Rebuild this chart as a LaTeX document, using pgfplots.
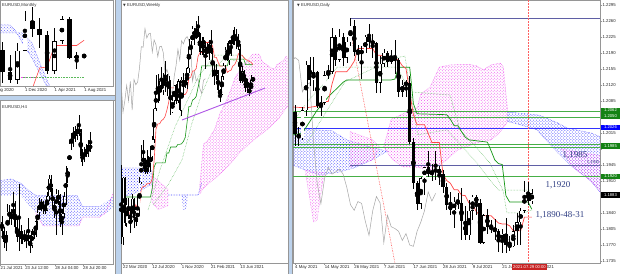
\documentclass[border=0pt]{standalone}
\usepackage{fontspec}
\setmainfont{Liberation Sans}
\newfontfamily\serifT{Liberation Serif}
\newfontfamily\dejavu{DejaVu Sans}
\usepackage{pgfplots}
\usepackage{pgfplotstable}
\pgfplotsset{compat=1.18}
\usetikzlibrary{patterns}

\definecolor{sep}{RGB}{188,210,236}
\definecolor{frame}{RGB}{150,150,150}
\definecolor{cpink}{RGB}{240,80,240}
\definecolor{cblue}{RGB}{70,70,255}
\definecolor{tred}{RGB}{255,70,70}
\definecolor{kgreen}{RGB}{20,150,20}
\definecolor{dgreen}{RGB}{90,185,90}
\definecolor{hgreen}{RGB}{70,175,70}
\definecolor{chik}{RGB}{165,165,165}
\definecolor{navy}{RGB}{95,95,165}
\definecolor{anno}{RGB}{45,60,130}
\definecolor{boxg}{RGB}{20,130,20}
\definecolor{trend}{RGB}{175,85,230}
\definecolor{redbox}{RGB}{200,35,35}

% ---------- Daily EURUSD (index 0 = 4 May 2021) ----------
\pgfplotstableread[row sep=\\]{
x o h l c\\
0 1.2062 1.2076 1.1987 1.2013\\
1 1.2013 1.2029 1.1986 1.2004\\
2 1.2004 1.2071 1.1999 1.2065\\
3 1.2065 1.2173 1.2053 1.2164\\
4 1.2164 1.2181 1.2117 1.2130\\
5 1.2130 1.2182 1.2106 1.2148\\
6 1.2148 1.2151 1.2069 1.2074\\
7 1.2074 1.2096 1.2052 1.2081\\
8 1.2081 1.2150 1.2077 1.2141\\
9 1.2141 1.2164 1.2133 1.2149\\
10 1.2149 1.2245 1.2145 1.2224\\
11 1.2224 1.2229 1.2162 1.2175\\
12 1.2175 1.2243 1.2170 1.2226\\
13 1.2226 1.2234 1.2161 1.2180\\
14 1.2180 1.2224 1.2168 1.2214\\
15 1.2214 1.2266 1.2205 1.2250\\
16 1.2250 1.2263 1.2183 1.2192\\
17 1.2192 1.2208 1.2172 1.2194\\
18 1.2194 1.2206 1.2133 1.2190\\
19 1.2190 1.2229 1.2189 1.2226\\
20 1.2226 1.2254 1.2201 1.2215\\
21 1.2215 1.2231 1.2180 1.2211\\
22 1.2211 1.2215 1.2103 1.2125\\
23 1.2125 1.2184 1.2103 1.2166\\
24 1.2166 1.2198 1.2160 1.2191\\
25 1.2191 1.2194 1.2160 1.2170\\
26 1.2170 1.2196 1.2165 1.2180\\
27 1.2180 1.2218 1.2144 1.2174\\
28 1.2174 1.2180 1.2093 1.2105\\
29 1.2105 1.2130 1.2094 1.2120\\
30 1.2120 1.2131 1.2094 1.2125\\
31 1.2125 1.2140 1.1990 1.1996\\
32 1.1996 1.2003 1.1892 1.1905\\
33 1.1905 1.1911 1.1847 1.1860\\
34 1.1860 1.1919 1.1848 1.1916\\
35 1.1916 1.1941 1.1880 1.1940\\
36 1.1940 1.1975 1.1918 1.1925\\
37 1.1925 1.1947 1.1911 1.1930\\
38 1.1930 1.1975 1.1912 1.1936\\
39 1.1936 1.1943 1.1901 1.1925\\
40 1.1925 1.1935 1.1884 1.1896\\
41 1.1896 1.1905 1.1847 1.1858\\
42 1.1858 1.1885 1.1835 1.1846\\
43 1.1846 1.1875 1.1807 1.1865\\
44 1.1865 1.1883 1.1848 1.1861\\
45 1.1861 1.1895 1.1782 1.1822\\
46 1.1822 1.1855 1.1781 1.1791\\
47 1.1791 1.1868 1.1781 1.1845\\
48 1.1845 1.1880 1.1825 1.1876\\
49 1.1876 1.1880 1.1835 1.1862\\
50 1.1862 1.1871 1.1772 1.1775\\
51 1.1775 1.1838 1.1772 1.1835\\
52 1.1835 1.1849 1.1795 1.1810\\
53 1.1810 1.1825 1.1796 1.1806\\
54 1.1806 1.1828 1.1780 1.1800\\
55 1.1800 1.1805 1.1755 1.1780\\
56 1.1780 1.1806 1.1752 1.1795\\
57 1.1795 1.1829 1.1752 1.1770\\
58 1.1770 1.1790 1.1756 1.1767\\
59 1.1767 1.1813 1.1765 1.1800\\
60 1.1800 1.1840 1.1770 1.1820\\
61 1.1820 1.1850 1.1771 1.1845\\
62 1.1845 1.1909 1.1841 1.1886\\
63 1.1886 1.1908 1.1857 1.1866\\
64 1.1866 1.1892 1.1860 1.1883\\
}\daily

% ---------- Weekly EURUSD (index 11 = 22 Mar 2020) ----------
\pgfplotstableread[row sep=\\]{
x o h l c\\
10 1.1105 1.1237 1.0640 1.0695\\
11 1.0695 1.1147 1.0636 1.1140\\
12 1.1140 1.1148 1.0780 1.0800\\
13 1.0800 1.0991 1.0768 1.0935\\
14 1.0935 1.0990 1.0833 1.0875\\
15 1.0875 1.0890 1.0727 1.0820\\
16 1.0820 1.1019 1.0810 1.0980\\
17 1.0980 1.0990 1.0766 1.0840\\
18 1.0840 1.0875 1.0775 1.0820\\
19 1.0820 1.1009 1.0810 1.0900\\
20 1.0900 1.1147 1.0870 1.1100\\
21 1.1100 1.1384 1.1095 1.1290\\
22 1.1290 1.1422 1.1240 1.1255\\
23 1.1255 1.1290 1.1168 1.1180\\
24 1.1180 1.1349 1.1168 1.1220\\
25 1.1220 1.1303 1.1185 1.1245\\
26 1.1245 1.1373 1.1185 1.1300\\
27 1.1300 1.1452 1.1280 1.1425\\
28 1.1425 1.1660 1.1400 1.1655\\
29 1.1655 1.1909 1.1640 1.1780\\
30 1.1780 1.1916 1.1696 1.1785\\
31 1.1785 1.1866 1.1712 1.1840\\
32 1.1840 1.1966 1.1780 1.1795\\
33 1.1795 1.1924 1.1755 1.1905\\
34 1.1905 1.2011 1.1780 1.1840\\
35 1.1840 1.1917 1.1753 1.1845\\
36 1.1845 1.1901 1.1738 1.1840\\
37 1.1840 1.1872 1.1612 1.1630\\
38 1.1630 1.1755 1.1625 1.1715\\
39 1.1715 1.1833 1.1685 1.1830\\
40 1.1830 1.1840 1.1690 1.1715\\
41 1.1715 1.1881 1.1702 1.1860\\
42 1.1860 1.1870 1.1640 1.1645\\
43 1.1645 1.1890 1.1603 1.1875\\
44 1.1875 1.1920 1.1745 1.1835\\
45 1.1835 1.1892 1.1808 1.1855\\
46 1.1855 1.1965 1.1800 1.1960\\
47 1.1960 1.2177 1.1924 1.2120\\
48 1.2120 1.2163 1.2059 1.2115\\
49 1.2115 1.2273 1.2111 1.2255\\
50 1.2255 1.2260 1.2130 1.2185\\
51 1.2185 1.2310 1.2175 1.2215\\
52 1.2215 1.2349 1.2193 1.2220\\
53 1.2220 1.2222 1.2054 1.2080\\
54 1.2080 1.2190 1.2060 1.2170\\
55 1.2170 1.2190 1.2055 1.2135\\
56 1.2135 1.2150 1.1952 1.2045\\
57 1.2045 1.2150 1.2040 1.2120\\
58 1.2120 1.2169 1.2023 1.2123\\
59 1.2123 1.2243 1.2066 1.2075\\
60 1.2075 1.2113 1.1893 1.1915\\
61 1.1915 1.1990 1.1836 1.1950\\
62 1.1950 1.1989 1.1873 1.1905\\
63 1.1905 1.1945 1.1762 1.1795\\
64 1.1795 1.1800 1.1704 1.1765\\
65 1.1765 1.1927 1.1761 1.1900\\
66 1.1900 1.1994 1.1868 1.1980\\
67 1.1980 1.2117 1.1950 1.2100\\
68 1.2100 1.2150 1.2015 1.2020\\
69 1.2020 1.2173 1.1986 1.2165\\
70 1.2165 1.2182 1.2052 1.2140\\
71 1.2140 1.2245 1.2133 1.2180\\
72 1.2180 1.2266 1.2133 1.2195\\
73 1.2195 1.2254 1.2103 1.2165\\
74 1.2165 1.2218 1.2093 1.2105\\
75 1.2105 1.2140 1.1847 1.1860\\
76 1.1860 1.1975 1.1848 1.1935\\
77 1.1935 1.1943 1.1807 1.1865\\
78 1.1865 1.1895 1.1781 1.1875\\
79 1.1875 1.1880 1.1772 1.1805\\
80 1.1805 1.1829 1.1752 1.1770\\
81 1.1770 1.1909 1.1765 1.1870\\
82 1.1870 1.1892 1.1860 1.1880\\
}\weekly

% ---------- Monthly EURUSD (index 0 = Sep 2020) ----------
\pgfplotstableread[row sep=\\]{
x o h l c\\
0 1.1935 1.2011 1.1612 1.1720\\
1 1.1720 1.1881 1.1612 1.1645\\
2 1.1645 1.2004 1.1603 1.1925\\
3 1.1925 1.2310 1.1925 1.2215\\
4 1.2215 1.2349 1.2054 1.2135\\
5 1.2135 1.2243 1.1952 1.2075\\
6 1.2075 1.2113 1.1704 1.1730\\
7 1.1730 1.2150 1.1704 1.2020\\
8 1.2020 1.2266 1.1986 1.2230\\
9 1.2230 1.2254 1.1847 1.1858\\
10 1.1858 1.1909 1.1752 1.1870\\
11 1.1870 1.1892 1.1860 1.1876\\
}\monthly

% ---------- H4 EURUSD (index 0 = 21 Jul 2021 00:00) ----------
\pgfplotstableread[row sep=\\]{
x o h l c\\
0 1.1785 1.1792 1.1770 1.1775\\
1 1.1775 1.1780 1.1756 1.1762\\
2 1.1762 1.1775 1.1752 1.1770\\
3 1.1770 1.1806 1.1765 1.1798\\
4 1.1798 1.1805 1.1785 1.1790\\
5 1.1790 1.1800 1.1782 1.1795\\
6 1.1795 1.1820 1.1790 1.1800\\
7 1.1800 1.1810 1.1775 1.1780\\
8 1.1780 1.1790 1.1762 1.1768\\
9 1.1768 1.1829 1.1752 1.1775\\
10 1.1775 1.1782 1.1760 1.1766\\
11 1.1766 1.1775 1.1760 1.1770\\
12 1.1770 1.1776 1.1762 1.1765\\
13 1.1765 1.1775 1.1756 1.1772\\
14 1.1772 1.1790 1.1760 1.1764\\
15 1.1764 1.1770 1.1750 1.1758\\
16 1.1758 1.1778 1.1755 1.1775\\
17 1.1775 1.1780 1.1766 1.1770\\
18 1.1770 1.1790 1.1768 1.1786\\
19 1.1786 1.1800 1.1780 1.1797\\
20 1.1797 1.1813 1.1790 1.1808\\
21 1.1808 1.1812 1.1798 1.1805\\
22 1.1805 1.1810 1.1795 1.1802\\
23 1.1802 1.1806 1.1795 1.1799\\
24 1.1799 1.1820 1.1798 1.1815\\
25 1.1815 1.1840 1.1810 1.1835\\
26 1.1835 1.1840 1.1815 1.1820\\
27 1.1820 1.1825 1.1800 1.1805\\
28 1.1805 1.1810 1.1790 1.1800\\
29 1.1800 1.1823 1.1770 1.1818\\
30 1.1818 1.1822 1.1805 1.1810\\
31 1.1810 1.1818 1.1780 1.1785\\
32 1.1785 1.1800 1.1771 1.1795\\
33 1.1795 1.1820 1.1790 1.1815\\
34 1.1815 1.1850 1.1805 1.1840\\
35 1.1840 1.1848 1.1830 1.1843\\
36 1.1843 1.1880 1.1840 1.1876\\
37 1.1876 1.1888 1.1868 1.1882\\
38 1.1882 1.1895 1.1872 1.1890\\
39 1.1890 1.1896 1.1878 1.1885\\
40 1.1885 1.1898 1.1880 1.1893\\
41 1.1893 1.1909 1.1885 1.1888\\
42 1.1888 1.1892 1.1855 1.1862\\
43 1.1862 1.1870 1.1850 1.1858\\
44 1.1858 1.1872 1.1855 1.1868\\
45 1.1868 1.1875 1.1860 1.1864\\
46 1.1864 1.1880 1.1860 1.1874\\
47 1.1874 1.1889 1.1866 1.1870\\
}\hfour

\pgfplotsset{
  mt/.style={scale only axis, clip=true, axis line style={frame, line width=0.4pt},
    tick style={frame, line width=0.3pt}, tick align=outside, major tick length=1.8bp,
    xtick pos=bottom, ytick=\empty, enlargelimits=false,
    tick label style={font=\fontsize{4.3}{5}\selectfont, text=black!85, inner sep=0.6bp},
    xticklabel style={anchor=north west, xshift=-0.6bp}},
  ebar/.style 2 args={only marks, mark=none, forget plot,
    error bars/.cd, y dir=both, y explicit, error mark=none,
    error bar style={#1, line width=#2}},
}
% #1 table, #2 wick width, #3 body width, #4 inner width, #5 border (data units)
\newcommand\candles[5]{%
  \addplot[ebar={black}{#2}] table[x=x, y expr={(\thisrow{h}+\thisrow{l})/2}, y error expr={(\thisrow{h}-\thisrow{l})/2}] {#1};
  \addplot[ebar={black}{#3}] table[x=x, y expr={(\thisrow{o}+\thisrow{c})/2}, y error expr={max(abs(\thisrow{c}-\thisrow{o})/2,#5/2)}] {#1};
  \addplot[ebar={white}{#4}] table[x=x, y expr={(\thisrow{o}+\thisrow{c})/2}, y error expr={max((\thisrow{c}-\thisrow{o})/2-#5,0)}] {#1};
}

\begin{document}
\begin{tikzpicture}
\useasboundingbox (0,0) rectangle (620bp,274bp);
\fill[sep] (0,0) rectangle (620bp,274bp);
\fill[white] (0,179bp) rectangle (115bp,274bp);
\fill[white] (0,0) rectangle (115bp,174bp);
\fill[white] (121bp,0) rectangle (288bp,274bp);
\fill[white] (292bp,0) rectangle (620bp,274bp);
\draw[frame, line width=0.5pt] (115bp,0) -- (115bp,274bp) (121bp,0) -- (121bp,274bp)
  (288bp,0) -- (288bp,274bp) (292bp,0) -- (292bp,274bp) (0,179bp) -- (115bp,179bp) (0,174bp) -- (115bp,174bp);

% ================= MONTHLY =================
\begin{axis}[mt, at={(0bp,188bp)}, anchor=south west, width=113bp, height=86bp,
  xmin=-0.365, xmax=14.9, ymin=1.1583, ymax=1.2417,
  xtick={3,7,11}, xticklabels={1 Dec 2020,1 Apr 2021,1 Aug 2021}]
\addplot[draw=cblue, densely dotted, line width=0.5pt, pattern=crosshatch dots, pattern color=cblue!80]
  coordinates {(-0.4,1.2175) (1.0,1.2175) (1.66,1.2126) (3.0,1.1961) (3.96,1.1854) (6,1.1573) (6.4,1.1573) (5.4,1.1738) (3.96,1.2000) (2.6,1.2097) (-0.4,1.2097)} -- cycle;
\addplot[cpink, densely dotted, line width=0.6pt] coordinates {(2.2,1.1672) (4.2,1.1672)};
\addplot[dgreen, densely dotted, line width=0.6pt] coordinates {(2.7,1.1665) (10.9,1.1665)};
\addplot[tred, line width=0.6pt] coordinates {(4,1.1558) (5,1.1758) (6,1.1767) (7,1.1976) (10,1.1976) (11,1.2027)};
\candles{\monthly}{0.5bp}{4.6bp}{3.4bp}{0.0006}
\end{axis}
\node[font=\fontsize{4.3}{5}\selectfont, text=black!85, anchor=north west, inner sep=0.6bp] at (-5.3bp,186.2bp) {Aug 2020};
\node[font=\fontsize{4.3}{5}\selectfont, text=black!80, anchor=west, inner sep=0pt] at (2bp,269bp) {EURUSD,Monthly};

% ================= H4 =================
\begin{axis}[mt, at={(0bp,10bp)}, anchor=south west, width=113bp, height=164bp,
  xmin=-1.07, xmax=59.2, ymin=1.1737, ymax=1.1926,
  xtick={-0.8,12.3,28.3,43.2}, xticklabels={21 Jul 2021,23 Jul 12:00,28 Jul 04:00,28 Jul 20:00}]
\addplot[draw=none, pattern=crosshatch dots, pattern color=cblue]
  coordinates {(-1.1,1.1833) (5,1.1835) (10,1.1830) (14,1.1822) (18,1.1816) (40,1.1816) (43,1.1803) (52,1.1803) (55,1.1808) (59.3,1.1816)
               (59.3,1.1801) (55,1.1795) (52,1.1791) (43,1.1791) (41,1.1781) (22,1.1781) (18,1.1796) (10,1.1816) (-1.1,1.1816)} -- cycle;
\addplot[cblue, densely dotted, line width=0.5pt] coordinates {(-1.1,1.1833) (5,1.1835) (10,1.1830) (14,1.1822) (18,1.1816) (40,1.1816) (43,1.1803) (52,1.1803)};
\addplot[cpink, densely dotted, line width=0.6pt] coordinates {(18,1.1796) (22,1.1781) (41,1.1781) (43,1.1791) (52,1.1791) (55,1.1796) (57,1.1805) (59.3,1.1819)};
\candles{\hfour}{0.4bp}{1.5bp}{0.7bp}{0.00006}
\end{axis}
\node[font=\fontsize{4.3}{5}\selectfont, text=black!80, anchor=west, inner sep=0pt] at (2bp,167bp) {EURUSD,H4};

% ================= WEEKLY =================
\begin{axis}[mt, at={(121bp,11bp)}, anchor=south west, width=167bp, height=263bp,
  xmin=9.9, xmax=101.16, ymin=1.0501, ymax=1.2469,
  xtick={11,27,43,59,75}, xticklabels={22 Mar 2020,12 Jul 2020,1 Nov 2020,21 Feb 2021,13 Jun 2021}]
% clouds
\addplot[draw=cblue, densely dotted, line width=0.4pt, pattern=crosshatch dots, pattern color=cblue]
  coordinates {(9.9,1.1212) (20,1.1212) (26.8,1.1190) (26.8,1.1090) (20,1.1040) (15,1.1010) (9.9,1.1000)} -- cycle;
\addplot[draw=cpink, densely dotted, line width=0.4pt, pattern=crosshatch dots, pattern color=cpink]
  coordinates {(26.8,1.1150) (30,1.1120) (35.6,1.1050) (35.6,1.0930) (30,1.0900) (26.8,1.0960)} -- cycle;
\addplot[draw=none, pattern=crosshatch dots, pattern color=cblue]
  coordinates {(43,1.1010) (46.5,1.1010) (45.5,1.0898) (43.8,1.0898)} -- cycle;
\addplot[cblue, densely dotted, line width=0.6pt] coordinates {(35.6,1.1010) (52,1.1010) (54,1.1100)};
\addplot[draw=cpink, densely dotted, line width=0.5pt, pattern=crosshatch dots, pattern color=cpink]
  coordinates {(53,1.1090) (54,1.1243) (55,1.1391) (57,1.1411) (61,1.1500) (64,1.1620) (67,1.1700) (70,1.1800) (72,1.1880) (75,1.1950) (78,1.2000) (82,1.2064) (85,1.2064) (86,1.2049) (87,1.2008) (89,1.1990) (92,1.1960) (94,1.1952) (95,1.1983) (97,1.2001) (99,1.2021) (100,1.2047) (101.2,1.2042)
               (101.2,1.1680) (98,1.1620) (96,1.1580) (93,1.1540) (89,1.1490) (84,1.1440) (79,1.1380) (75,1.1330) (70,1.1250) (65,1.1180) (61,1.1130) (58,1.1100) (55,1.1060) (53,1.1020)} -- cycle;
% green dotted levels
\addplot[dgreen, densely dotted, line width=0.5pt] coordinates {(24.7,1.0898) (31.2,1.1197) (39.4,1.1519) (47.6,1.1758) (52.0,1.1893) (61.3,1.2057) (76.0,1.2057) (81.5,1.1968)};
\addplot[dgreen, densely dotted, line width=0.5pt] coordinates {(27.4,1.0935) (35.6,1.1085) (43.2,1.1272) (48.7,1.1549) (54.2,1.1773) (59.6,1.1945) (66.7,1.2035) (74.9,1.2005)};
% chikou
\addplot[chik, line width=0.5pt] coordinates {(10,1.1840) (11,1.1630) (12,1.1715) (13,1.1830) (14,1.1715) (15,1.1860) (16,1.1645) (17,1.1875) (18,1.1835) (19,1.1855) (20,1.1960) (21,1.2120) (22,1.2115) (23,1.2255) (24,1.2185) (25,1.2215) (26,1.2220) (27,1.2080) (28,1.2170) (29,1.2135) (30,1.2045) (31,1.2120) (32,1.2123) (33,1.2075) (34,1.1915) (35,1.1950) (36,1.1905) (37,1.1795) (38,1.1765) (39,1.1900) (40,1.1980) (41,1.2100) (42,1.2020) (43,1.2165) (44,1.2140) (45,1.2180) (46,1.2195) (47,1.2165) (48,1.2105) (49,1.1860) (50,1.1935) (51,1.1865) (52,1.1875) (53,1.1805) (54,1.1770) (55,1.1870) (56,1.1880)};
% kijun
\addplot[kgreen, line width=0.6pt] coordinates {(9.9,1.0995) (26,1.0995) (27,1.1060) (28,1.1220) (29,1.1250) (34,1.1250) (35,1.1324) (36,1.1324) (37,1.1369) (40,1.1369) (41,1.1389) (42,1.1389) (43,1.1393) (44,1.1411) (45,1.1441) (46,1.1553) (47,1.1673) (48,1.1673) (49,1.1721) (50,1.1729) (51,1.1748) (52,1.1815) (53,1.1875) (54,1.1976) (68,1.1976) (69,1.2027) (77,1.2027) (78,1.1985) (82,1.1985)};
% tenkan
\addplot[tred, line width=0.6pt] coordinates {(13,1.0880) (14,1.0880) (15,1.0870) (16,1.0870) (17,1.0890) (18,1.0937) (19,1.0892) (20,1.0938) (21,1.1056) (22,1.1075) (23,1.1075) (24,1.1094) (25,1.1094) (26,1.1099) (27,1.1131) (28,1.1265) (29,1.1502) (30,1.1542) (31,1.1542) (32,1.1567) (33,1.1576) (34,1.1598) (35,1.1646) (36,1.1706) (37,1.1812) (42,1.1812) (43,1.1760) (44,1.1762) (45,1.1762) (46,1.1784) (47,1.1890) (48,1.1890) (49,1.1938) (50,1.1938) (51,1.1957) (52,1.2047) (53,1.2075) (54,1.2075) (55,1.2137) (56,1.2151) (59,1.2151) (60,1.2121) (61,1.2040) (62,1.2040) (63,1.2003) (64,1.1974) (67,1.1974) (68,1.1927) (69,1.1939) (70,1.1943) (71,1.1975) (72,1.1985) (73,1.2014) (74,1.2067) (75,1.2057) (76,1.2057) (77,1.2037) (78,1.2024) (79,1.2019) (80,1.2009) (81,1.2003) (82,1.1985)};
\candles{\weekly}{0.4bp}{1.4bp}{0.6bp}{0.00037}
% trend line
\addplot[trend, line width=0.9pt] coordinates {(43.2,1.1571) (88.6,1.1810)};
\end{axis}
\node[font=\fontsize{4.3}{5}\selectfont, text=black!80, anchor=west, inner sep=0pt] at (123bp,269bp) {{\dejavu\fontsize{3.5}{4}\selectfont ▼} EURUSD,Weekly};

% ================= DAILY =================
\begin{axis}[mt, at={(293bp,11bp)}, anchor=south west, width=307bp, height=263bp,
  xmin=-0.54, xmax=82.43, ymin=1.17306, ymax=1.23059,
  xtick={0,8,16,24,32,40,48,56,64},
  xticklabels={4 May 2021,14 May 2021,26 May 2021,7 Jun 2021,17 Jun 2021,28 Jun 2021,9 Jul 2021,21 Jul 2021,2 Aug 2021},
  ytick={1.2295,1.2260,1.2225,1.2190,1.2155,1.2120,1.2085,1.2050,1.2015,1.1980,1.1945,1.1910,1.1875,1.1840,1.1805,1.1770,1.1735},
  yticklabels={1.2295,1.2260,1.2225,1.2190,1.2155,1.2120,1.2085,{},1.2015,{},1.1945,1.1910,{},1.1840,1.1805,1.1770,1.1735},
  ytick pos=right, yticklabel pos=right]
% clouds
\addplot[draw=cblue, densely dotted, line width=0.4pt, pattern=crosshatch dots, pattern color=cblue]
  coordinates {(-0.6,1.2025) (10,1.2020) (14,1.2000) (20,1.1985) (25,1.1975) (20.8,1.1956) (16.2,1.1939) (12.2,1.1930) (6.8,1.1923) (2.7,1.1934) (-0.6,1.1945)} -- cycle;
\addplot[draw=cpink, densely dotted, line width=0.4pt, pattern=crosshatch dots, pattern color=cpink]
  coordinates {(2.7,1.1934) (4,1.1870) (5,1.1820) (6,1.1825) (7.3,1.1900) (8,1.1928)} -- cycle;
\addplot[draw=cpink, densely dotted, line width=0.4pt, pattern=crosshatch dots, pattern color=cpink]
  coordinates {(14.9,1.2018) (21,1.2000) (23,1.1985) (21,1.1956) (14.9,1.1941)} -- cycle;
\addplot[draw=cpink, densely dotted, line width=0.5pt, pattern=crosshatch dots, pattern color=cpink]
  coordinates {(24,1.1985) (26,1.2045) (30,1.2060) (33,1.2070) (34,1.2100) (36.5,1.2115) (39,1.2159) (42,1.2164) (47,1.2165) (49,1.2162) (51,1.2153) (53,1.2164) (55.5,1.2168) (56.3,1.2159) (57.5,1.2061)
               (57.5,1.2040) (55,1.2013) (53,1.2000) (49,1.1993) (44,1.1978) (40,1.1950) (36.5,1.1934) (33,1.1940) (29,1.1941) (26,1.1960)} -- cycle;
\addplot[draw=cblue, densely dotted, line width=0.5pt, pattern=crosshatch dots, pattern color=cblue]
  coordinates {(57.5,1.2061) (66,1.2054) (71,1.2037) (73.5,1.2026) (80,1.2015) (83,1.2005) (83,1.1880) (80,1.1910) (75,1.1941) (71,1.1972) (65.4,1.2022) (60,1.2035) (57.5,1.2040)} -- cycle;
\addplot[draw=cpink, densely dotted, line width=0.4pt, pattern=crosshatch dots, pattern color=cpink]
  coordinates {(72,1.1980) (83,1.1965) (83,1.1882) (80,1.1910) (75,1.1941)} -- cycle;
% horizontal levels
\addplot[navy, line width=0.6pt] coordinates {(14.9,1.2266) (83,1.2266)};
\addplot[hgreen, line width=0.7pt] coordinates {(-1,1.2062) (83,1.2062)};
\addplot[hgreen, line width=0.7pt] coordinates {(-1,1.2050) (83,1.2050)};
\addplot[blue!80, line width=0.7pt] coordinates {(-1,1.2026) (83,1.2026)};
\addplot[hgreen, line width=0.8pt] coordinates {(-1,1.1991) (83,1.1991)};
\addplot[hgreen, line width=0.8pt] coordinates {(-1,1.1984) (83,1.1984)};
\addplot[navy, line width=0.6pt] coordinates {(14.9,1.1945) (83,1.1945)};
\addplot[hgreen, line width=0.8pt] coordinates {(-1,1.1920) (83,1.1920)};
% red dotted diagonal and crosshair
\addplot[tred, densely dotted, line width=0.6pt] coordinates {(15.4,1.2218) (27,1.1731)};
\addplot[red!50!pink, densely dotted, line width=0.5pt] coordinates {(63,1.1730) (63,1.2306)};
% green dotted lines
\addplot[dgreen, densely dotted, line width=0.5pt] coordinates {(-0.5,1.2040) (4,1.2090) (8,1.2125) (11.4,1.2159) (27.6,1.2159) (31.1,1.2105) (41.9,1.2098) (44.6,1.2022) (49.2,1.1982) (52.7,1.1949) (56.2,1.1890) (57.3,1.1840) (61.6,1.1840) (64.3,1.1847)};
\addplot[dgreen, densely dotted, line width=0.5pt] coordinates {(3,1.1990) (6.8,1.2040) (13.5,1.2127) (27,1.2179) (29.7,1.2183) (31.6,1.2087) (33.2,1.2011) (41.1,1.2022) (49.2,1.1949) (52.7,1.1912) (55,1.1890) (64.3,1.1890)};
% chikou
\addplot[chik, line width=0.5pt] coordinates {(-1,1.2170) (0,1.2180) (1,1.2174) (2,1.2105) (3,1.2120) (4,1.2125) (5,1.1996) (6,1.1905) (7,1.1860) (8,1.1916) (9,1.1940) (10,1.1925) (11,1.1930) (12,1.1936) (13,1.1925) (14,1.1896) (15,1.1858) (16,1.1846) (17,1.1865) (18,1.1861) (19,1.1822) (20,1.1791) (21,1.1845) (22,1.1876) (23,1.1862) (24,1.1775) (25,1.1835) (26,1.1810) (27,1.1806) (28,1.1800) (29,1.1780) (30,1.1795) (31,1.1770) (32,1.1767) (33,1.1800) (34,1.1820) (35,1.1845) (36,1.1886) (37,1.1866) (38,1.1883)};
% kijun
\addplot[kgreen, line width=0.7pt] coordinates {(-1,1.2010) (2,1.2015) (6,1.2065) (9,1.2094) (13,1.2126) (14,1.2131) (26,1.2131) (27,1.2133) (28,1.2159) (31,1.2159) (32,1.2079) (33,1.2057) (41,1.2055) (42,1.2045) (43,1.2031) (44,1.2031) (45,1.2018) (46,1.2006) (47,1.2000) (52,1.1995) (53,1.1976) (54,1.1956) (55,1.1948) (56,1.1946) (57,1.1878) (58,1.1864) (63,1.1864) (64,1.1848)};
% tenkan
\addplot[tred, line width=0.7pt] coordinates {(-1,1.2072) (3,1.2070) (7,1.2075) (8,1.2084) (9,1.2084) (10,1.2122) (11,1.2149) (14,1.2149) (15,1.2159) (16,1.2172) (17,1.2200) (21,1.2200) (22,1.2185) (23,1.2185) (24,1.2183) (25,1.2179) (27,1.2179) (28,1.2174) (29,1.2162) (30,1.2156) (31,1.2104) (32,1.2055) (33,1.2033) (35,1.2033) (36,1.2014) (37,1.1994) (39,1.1994) (40,1.1925) (41,1.1911) (42,1.1905) (43,1.1891) (44,1.1891) (45,1.1879) (46,1.1878) (47,1.1862) (48,1.1858) (49,1.1843) (50,1.1834) (53,1.1834) (54,1.1826) (55,1.1818) (56,1.1816) (57,1.1816) (58,1.1812) (59,1.1801) (61,1.1801) (62,1.1831) (64,1.1831)};
\candles{\daily}{0.5bp}{3.2bp}{2.3bp}{0.0001}
\end{axis}
\node[font=\fontsize{4.3}{5}\selectfont, text=black!80, anchor=west, inner sep=0pt] at (297bp,269bp) {{\dejavu\fontsize{3.5}{4}\selectfont ▼} EURUSD,Daily};

% price boxes on the daily scale
\tikzset{pbox/.style={font=\fontsize{4.2}{5}\selectfont, text=white, inner sep=0.3bp, minimum width=18.5bp, minimum height=5.6bp, anchor=west}}
\node[pbox, fill=boxg] at (601bp,163.5bp) {1.2062};
\node[pbox, fill=boxg] at (601bp,157.8bp) {1.2050};
\node[pbox, fill=blue] at (601bp,146.5bp) {1.2026};
\node[pbox, fill=boxg] at (601bp,128bp) {1.1985};
\node[pbox, fill=boxg] at (601bp,97.5bp) {1.1920};
\node[pbox, fill=black] at (601bp,79bp) {1.1883};
\node[font=\serifT\fontsize{4.6}{5}\selectfont, text=anno, anchor=east, inner sep=0.3bp] at (600bp,111.5bp) {1,1945};

% annotations
\node[font=\serifT\fontsize{9}{10}\selectfont, text=anno] at (575bp,119bp) {1,1985};
\node[font=\serifT\fontsize{9}{10}\selectfont, text=anno] at (558bp,89bp) {1,1920};
\node[font=\serifT\fontsize{9}{10}\selectfont, text=anno] at (560bp,58.5bp) {1,1890-48-31};

% crosshair date box
\node[fill=redbox, text=white, font=\fontsize{4.2}{5}\selectfont, inner sep=0.6bp, minimum width=35bp, minimum height=6.5bp] at (529.5bp,6.8bp) {2021.07.29 00:00};
\end{tikzpicture}
\end{document}
